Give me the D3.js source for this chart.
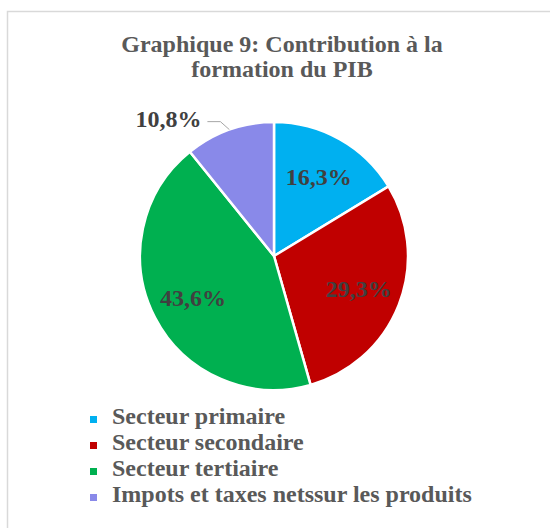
<!DOCTYPE html>
<html>
<head>
<meta charset="utf-8">
<script src="https://cdn.jsdelivr.net/npm/d3@7"></script>
<style>
  body { margin: 0; background: #fff; }
  svg text { font-family: "Liberation Serif", "Times New Roman", serif; font-weight: bold; }
</style>
</head>
<body>
<div id="chart"></div>
<script>
// data
var categories = ['Secteur primaire', 'Secteur secondaire', 'Secteur tertiaire', 'Impots et taxes netssur les produits'];
var values = [16.3, 29.3, 43.6, 10.8];
var labels = ['16,3%', '29,3%', '43,6%', '10,8%'];
var colors = ['#00b0f0', '#c00000', '#00b050', '#8989e9'];

var width = 550,
    height = 528;
var cx = 274, cy = 256, radius = 134;

var svg = d3.select('#chart').append('svg')
    .attr('width', width)
    .attr('height', height);

// chart area border (runs off the right and bottom edges)
svg.append('rect')
    .attr('x', 7.5).attr('y', 11.5)
    .attr('width', 560).attr('height', 540)
    .attr('fill', 'none')
    .attr('stroke', '#d9d9d9')
    .attr('stroke-width', 1.5);

// title
var title = svg.append('text')
    .attr('text-anchor', 'middle')
    .style('font-size', '24px')
    .style('fill', '#595959');
title.append('tspan').attr('x', 282).attr('y', 52).text('Graphique 9: Contribution à la');
title.append('tspan').attr('x', 282).attr('y', 77).text('formation du PIB');

var pie = d3.pie().sort(null).value(function(d) { return d; });
var arcs = pie(values);
var arc = d3.arc().innerRadius(0).outerRadius(radius);
var labelArc = d3.arc().innerRadius(radius * 0.68).outerRadius(radius * 0.68);

var g = svg.append('g').attr('transform', 'translate(' + cx + ',' + cy + ')');

g.selectAll('path.slice')
    .data(arcs)
    .enter().append('path')
    .attr('class', 'slice')
    .attr('d', arc)
    .attr('fill', function(d, i) { return colors[i]; })
    .attr('stroke', '#fff')
    .attr('stroke-width', 2.5);

// inside labels for the first three slices
g.selectAll('text.lbl')
    .data(arcs.slice(0, 3))
    .enter().append('text')
    .attr('class', 'lbl')
    .attr('x', function(d) { return labelArc.centroid(d)[0]; })
    .attr('y', function(d) { return labelArc.centroid(d)[1] + 8; })
    .attr('text-anchor', 'middle')
    .style('font-size', '24px')
    .style('fill', '#404040')
    .text(function(d, i) { return labels[i]; });

// last slice gets an outside label with leader line
var last = arcs[3];
var mid = (last.startAngle + last.endAngle) / 2;
var edge = [Math.sin(mid) * radius, -Math.cos(mid) * radius];
var elbow = [edge[0] - 9, edge[1] - 8];
var end = [elbow[0] - 13, elbow[1]];
g.append('polyline')
    .attr('points', [edge, elbow, end].map(function(p) { return p.join(','); }).join(' '))
    .attr('fill', 'none')
    .attr('stroke', '#a6a6a6')
    .attr('stroke-width', 1);
g.append('text')
    .attr('x', end[0] - 6)
    .attr('y', end[1] + 5)
    .attr('text-anchor', 'end')
    .style('font-size', '24px')
    .style('fill', '#404040')
    .text(labels[3]);

// legend
var legend = svg.append('g');
categories.forEach(function(c, i) {
  var y = 424 + i * 26;
  legend.append('rect')
      .attr('x', 90).attr('y', y - 8)
      .attr('width', 7).attr('height', 7)
      .attr('fill', colors[i]);
  legend.append('text')
      .attr('x', 112).attr('y', y)
      .style('font-size', '24px')
      .style('fill', '#595959')
      .text(c);
});
</script>
</body>
</html>
